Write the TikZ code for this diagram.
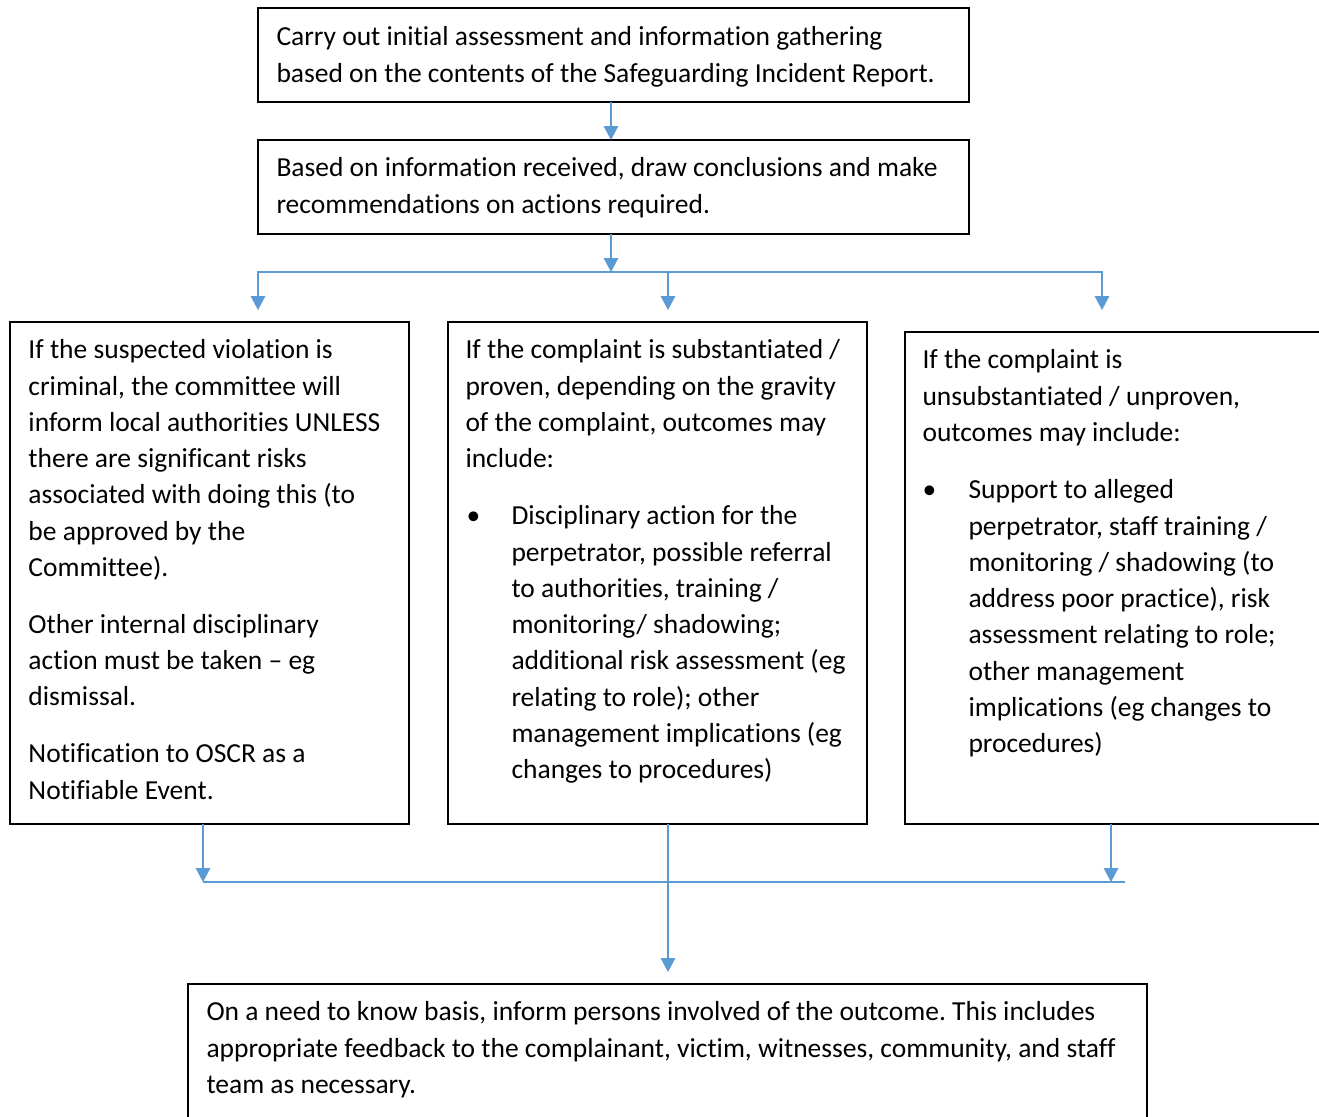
\documentclass[tikz,border=0pt]{standalone}
\usepackage{fontspec}
\setmainfont{Carlito}[Ligatures=NoCommon]
\usetikzlibrary{arrows.meta,positioning}
\definecolor{linkblue}{RGB}{91,155,213}
\newcommand{\bodyfont}{\fontsize{11}{14.5}\selectfont\frenchspacing}
\tikzset
{
    panel/.style = {draw=black, line width=0.8pt, anchor=north west, outer sep=0pt, inner sep=0pt},
    body/.style  = {anchor=north west, inner sep=0pt, align=left, font=\bodyfont},
    flow/.style  = {draw=linkblue, line width=0.6pt, -{Triangle[width=5.8pt,length=5.6pt]}},
    bus/.style   = {draw=linkblue, line width=0.6pt}
}

\begin{document}
\begin{tikzpicture}[x=0.4pt, y=-0.4pt]
\useasboundingbox (0,0) rectangle (1319,1116);
\clip (0,0) rectangle (1319,1116);

% boxes
\node[panel, minimum width=284.4pt, minimum height=37.6pt] (assess) at (258,8) {};
\node[panel, minimum width=284.4pt, minimum height=37.6pt] (conclude) at (258,140) {};
\node[panel, minimum width=159.6pt, minimum height=200.8pt] (criminal) at (10,322) {};
\node[panel, minimum width=167.6pt, minimum height=200.8pt] (proven) at (448,322) {};
\node[panel, minimum width=176pt, minimum height=196.8pt] (unproven) at (905,332) {};
\node[panel, minimum width=383.6pt, minimum height=60pt] (inform) at (188,984) {};

% texts
\node[body] (assesstxt) at (276,20) {\strut Carry out initial assessment and information gathering\\
    based on the contents of the Safeguarding Incident Report.};
\node[body] (concludetxt) at (276,151) {\strut Based on information received, draw conclusions and make\\
    recommendations on actions required.};
\node[body] (criminaltxt) at (28,333) {\strut If the suspected violation is\\
    criminal, the committee will\\ inform local authorities UNLESS\\
    there are significant risks\\ associated with doing this (to\\
    be approved by the\\ Committee).\\[8.3pt]
    Other internal disciplinary\\ action must be taken – eg\\ dismissal.\\[8.3pt]
    Notification to OSCR as a\\ Notifiable Event.};
\node[body] (proventxt) at (465,333) {\strut If the complaint is substantiated /\\
    proven, depending on the gravity\\ of the complaint, outcomes may\\ include:};
\node[body] (provendot) at (466,499) {\strut •};
\node[body] (provenlist) at (511,499) {\strut Disciplinary action for the\\
    perpetrator, possible referral\\ to authorities, training /\\
    monitoring/ shadowing;\\ additional risk assessment (eg\\
    relating to role); other\\ management implications (eg\\
    changes to procedures)};
\node[body] (unproventxt) at (922,343) {\strut If the complaint is\\
    unsubstantiated / unproven,\\ outcomes may include:};
\node[body] (unprovendot) at (922,473) {\strut •};
\node[body] (unprovenlist) at (968,473) {\strut Support to alleged\\
    perpetrator, staff training /\\ monitoring / shadowing (to\\
    address poor practice), risk\\ assessment relating to role;\\
    other management\\ implications (eg changes to\\ procedures)};
\node[body] (informtxt) at (206,995) {\strut On a need to know basis, inform persons involved of the outcome. This includes\\
    appropriate feedback to the complainant, victim, witnesses, community, and staff\\
    team as necessary.};

% connectors
\coordinate (split) at (611,272);
\coordinate (tipL) at (258,310);
\coordinate (tipM) at (668,310);
\coordinate (tipR) at (1102,310);
\coordinate (joinL) at (203,882);
\coordinate (joinR) at (1111,882);
\coordinate (joinEnd) at (1125,882);
\coordinate (tipB) at (668,972);

\draw[flow] (assess.south -| split) -- (conclude.north -| split);
\draw[flow] (conclude.south -| split) -- (split);
\draw[flow] (split) -| (tipL);
\draw[flow] (split) -| (tipR);
\draw[flow] (split -| tipM) -- (tipM);

\draw[flow] (criminal.south -| joinL) -- (joinL);
\draw[flow] (unproven.south -| joinR) -- (joinR);
\draw[bus] (joinL) -- (joinEnd);
\draw[flow] (proven.south -| tipB) -- (tipB);
\end{tikzpicture}
\end{document}
